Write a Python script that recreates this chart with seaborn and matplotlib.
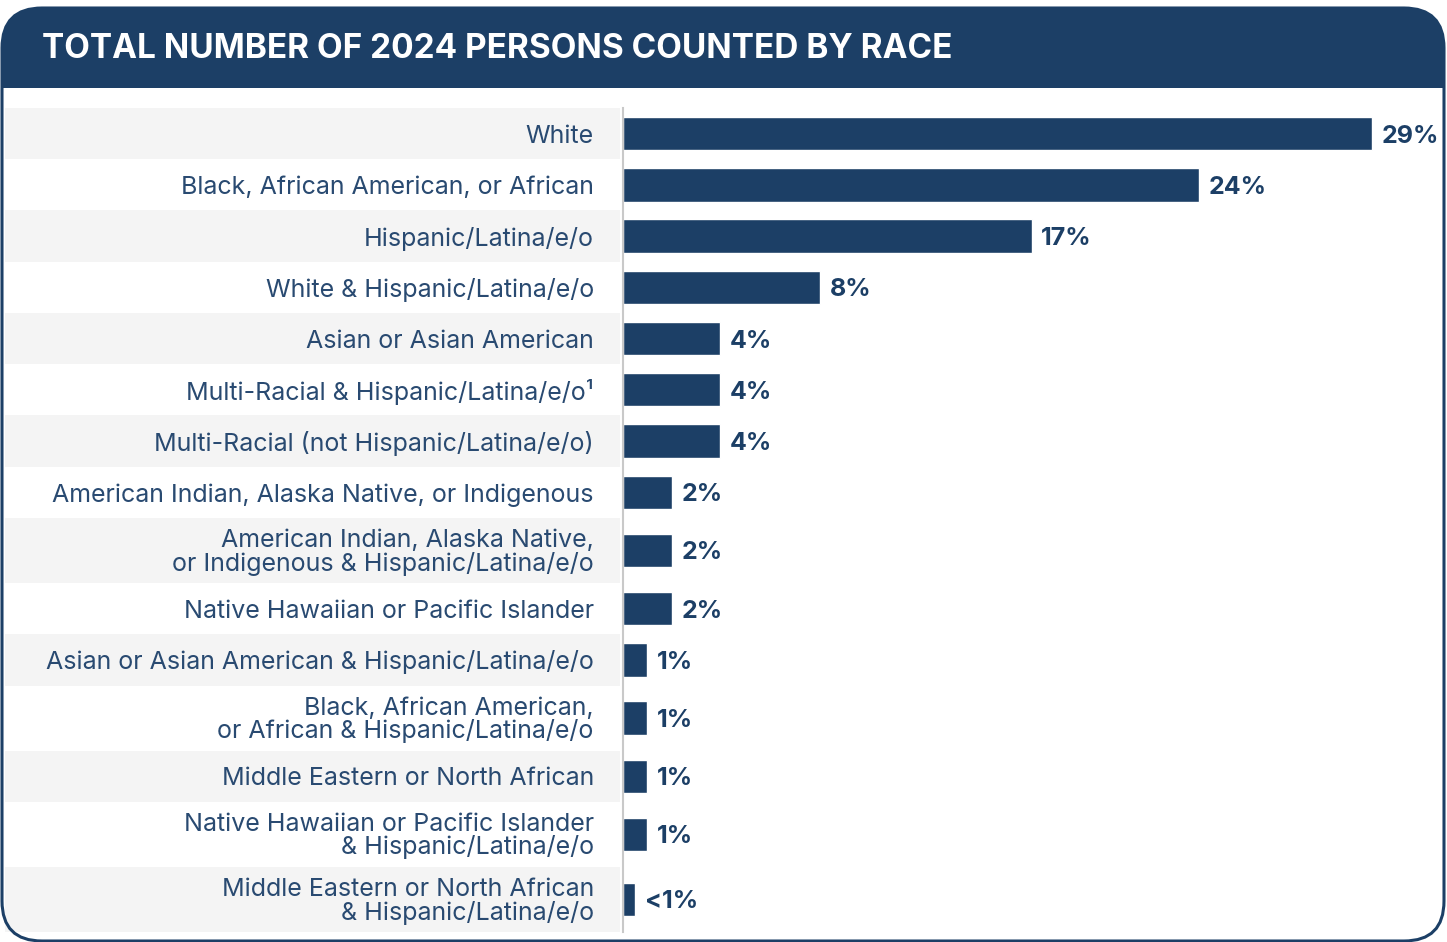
import numpy as np
import pandas as pd
import matplotlib.pyplot as plt
import matplotlib.transforms as mtransforms
from matplotlib.patches import FancyBboxPatch, Rectangle
import seaborn as sns

# Data (bar lengths, labels as printed)
races = [
    "White",
    "Black, African American, or African",
    "Hispanic/Latina/e/o",
    "White & Hispanic/Latina/e/o",
    "Asian or Asian American",
    "Multi-Racial & Hispanic/Latina/e/o\u00b9",
    "Multi-Racial (not Hispanic/Latina/e/o)",
    "American Indian, Alaska Native, or Indigenous",
    "American Indian, Alaska Native,\nor Indigenous & Hispanic/Latina/e/o",
    "Native Hawaiian or Pacific Islander",
    "Asian or Asian American & Hispanic/Latina/e/o",
    "Black, African American,\nor African & Hispanic/Latina/e/o",
    "Middle Eastern or North African",
    "Native Hawaiian or Pacific Islander\n& Hispanic/Latina/e/o",
    "Middle Eastern or North African\n& Hispanic/Latina/e/o",
]
shares = [30.8, 23.7, 16.8, 8.1, 4.0, 4.0, 4.0, 2.0, 2.0, 2.0, 1.0, 1.0, 1.0, 1.0, 0.5]
share_labels = ["29%", "24%", "17%", "8%", "4%", "4%", "4%", "2%", "2%", "2%",
                "1%", "1%", "1%", "1%", "<1%"]

title = "TOTAL NUMBER OF 2024 PERSONS COUNTED BY RACE"

NAVY = "#1c3f66"
TEXT = "#294a71"
ROW_GRAY = "#f4f4f4"

W, H = 1447, 942


def main():
    sns.set_style("white")
    plt.rcParams["font.family"] = ["Inter", "DejaVu Sans"]

    # two-line labels get taller rows
    row_h = np.array([1.27 if "\n" in r else 1.0 for r in races])
    row_top = np.concatenate([[0], np.cumsum(row_h)[:-1]])
    row_mid = row_top + row_h / 2

    df = pd.DataFrame({"race": races, "share": shares, "pos": row_mid})

    fig = plt.figure(figsize=(W / 100, H / 100), dpi=100)
    # pixel coords, y measured from the top of the image
    px = mtransforms.Affine2D().scale(1 / W, -1 / H).translate(0, 1) + fig.transFigure

    # Rounded frame + header band clipped to it
    frame = FancyBboxPatch((2, 8), 1442, 933, boxstyle="round,pad=0,rounding_size=40",
                           transform=px, facecolor="white", edgecolor="none", zorder=0)
    fig.add_artist(frame)
    header = Rectangle((0, 0), W, 88, transform=px, facecolor=NAVY, edgecolor="none", zorder=1)
    fig.add_artist(header)
    header.set_clip_path(frame)
    border = FancyBboxPatch((2, 8), 1442, 933, boxstyle="round,pad=0,rounding_size=40",
                            transform=px, facecolor="none", edgecolor=NAVY, linewidth=2.2, zorder=5)
    fig.add_artist(border)
    fig.text(42 / W, 1 - 49 / H, title, color="white", fontsize=24, fontweight="bold",
             va="center", ha="left")

    ax = fig.add_axes([623 / W, 1 - 932 / H, (1440 - 623) / W, (932 - 108) / H])
    ax.patch.set_alpha(0)

    sns.barplot(data=df, x="share", y="pos", color=NAVY, saturation=1, width=0.65,
                errorbar=None, orient="h", native_scale=True, ax=ax)

    ax.set_xlim(0, 33.6)
    ax.set_ylim(row_h.sum(), 0)
    ax.set_yticks(row_mid)
    ax.set_yticklabels(races)
    ax.set_xlabel("")
    ax.set_ylabel("")
    ax.set_xticks([])
    for side in ["top", "right", "bottom"]:
        ax.spines[side].set_visible(False)
    ax.spines["left"].set_color("#c9c9c9")
    ax.spines["left"].set_linewidth(1.5)
    ax.tick_params(axis="y", length=0, pad=21, labelsize=18, labelcolor=TEXT)
    for t in ax.get_yticklabels():
        t.set_linespacing(0.95)

    # Alternating row shading under the labels
    band = mtransforms.blended_transform_factory(fig.transFigure, ax.transData)
    for i in range(0, len(races), 2):
        ax.add_patch(Rectangle((5 / W, row_top[i]), (620 - 5) / W, row_h[i], transform=band,
                               facecolor=ROW_GRAY, edgecolor="none", clip_on=False, zorder=-1))

    texts = ax.bar_label(ax.containers[0], labels=share_labels, padding=7, fontsize=18,
                         fontweight="bold", color=NAVY)
    for t in texts:
        t.set_va("center_baseline")

    fig.savefig("out.png", dpi=100)
    plt.close(fig)


if __name__ == "__main__":
    main()
